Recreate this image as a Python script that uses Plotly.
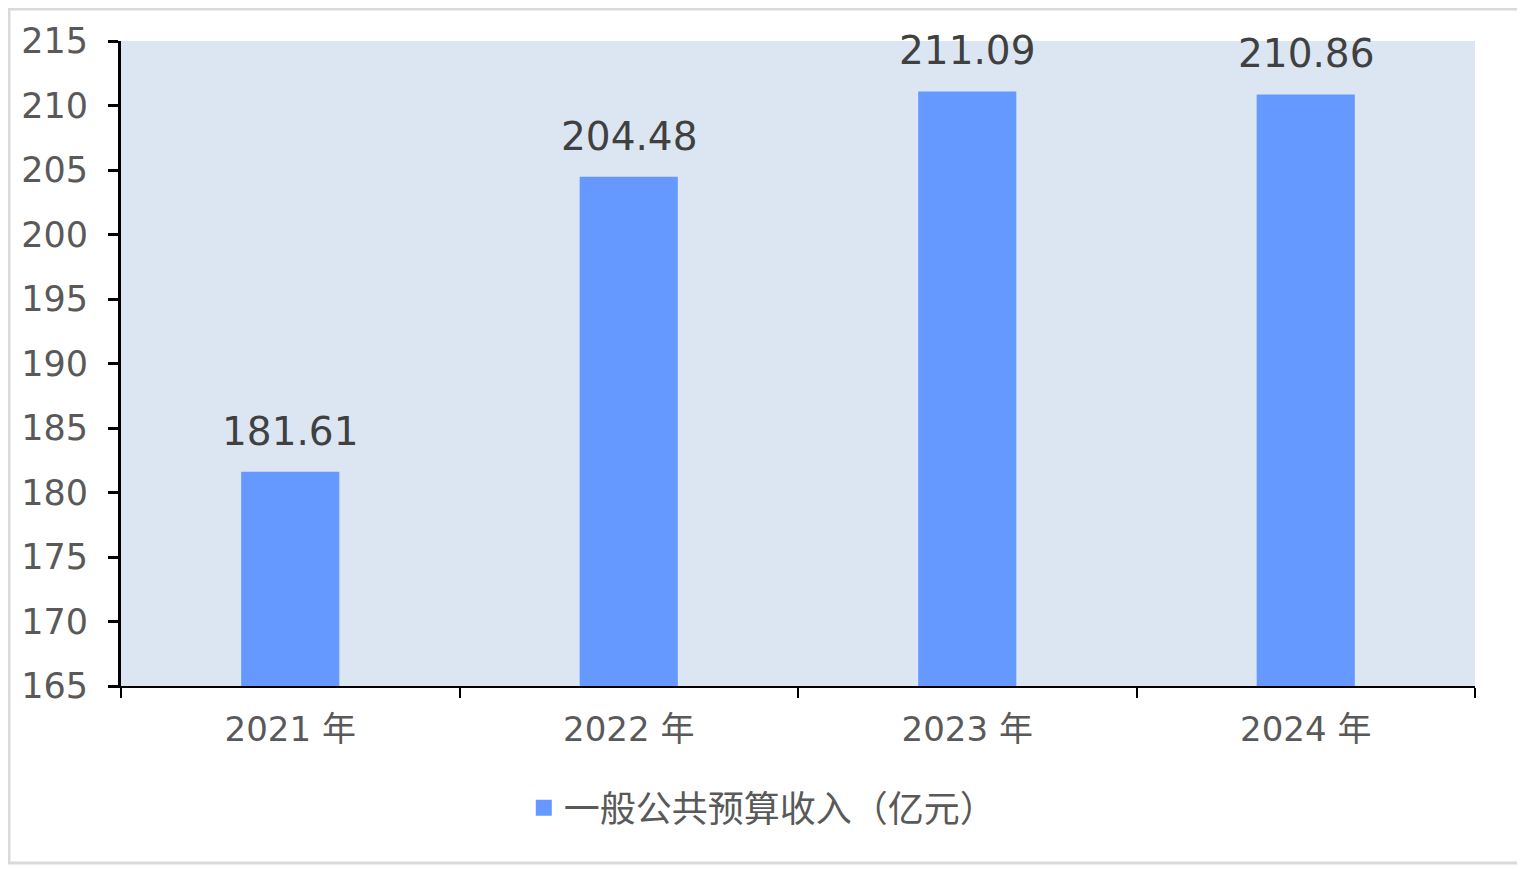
import plotly.graph_objects as go

# 数据
anos = ["2021 年", "2022 年", "2023 年", "2024 年"]
receita = [181.61, 204.48, 211.09, 210.86]
rotulos = ["181.61", "204.48", "211.09", "210.86"]
nome_serie = "一般公共预算收入（亿元）"
yticks = [165, 170, 175, 180, 185, 190, 195, 200, 205, 210, 215]

# a página tem 8px de margem no body, então desconto isso nas margens
W, H = 1525, 870
L, R, T, B = 113, 58, 33, 192
PW, PH = W - L - R, H - T - B

fig = go.Figure()

fig.add_trace(go.Bar(
    x=anos,
    y=receita,
    name=nome_serie,
    width=0.29,
    marker=dict(color="#6699ff", line=dict(width=0)),
    showlegend=False,
))

# item da legenda com quadrado maior
fig.add_trace(go.Scatter(
    x=[None], y=[None],
    mode="markers",
    name=nome_serie,
    marker=dict(symbol="square", size=20, color="#6699ff"),
))

# rótulos de valor acima das barras
for ano, v, txt in zip(anos, receita, rotulos):
    fig.add_annotation(
        x=ano, y=v, text=txt,
        showarrow=False, yanchor="bottom", yshift=16,
        font=dict(size=39, color="#404040", family="DejaVu Sans"),
    )

fig.update_layout(
    width=W, height=H,
    margin=dict(l=L, r=R, t=T, b=B, autoexpand=False),
    paper_bgcolor="white",
    plot_bgcolor="#dce6f2",
    font=dict(family="DejaVu Sans, Noto Sans CJK SC", color="#595959"),
    showlegend=True,
    legend=dict(
        orientation="h", x=0.474, xanchor="center", y=-0.189, yanchor="middle",
        font=dict(size=36, color="#595959", family="Noto Sans CJK SC"),
        itemsizing="trace", itemwidth=30,
    ),
)

fig.update_yaxes(
    range=[165, 215],
    tickvals=yticks,
    showgrid=False,
    zeroline=False,
    automargin=False,
    showline=True, linecolor="black", linewidth=3,
    ticks="outside", ticklen=10, tickwidth=3, tickcolor="black",
    ticklabelstandoff=13,
    tickfont=dict(size=35, color="#595959"),
)

fig.update_xaxes(
    showgrid=False,
    automargin=False,
    showline=True, linecolor="black", linewidth=2,
    ticks="outside", ticklen=10, tickwidth=2, tickcolor="black",
    tickson="boundaries",
    ticklabelstandoff=12,
    tickfont=dict(size=34, color="#595959"),
)

# moldura cinza da imagem
fig.add_shape(
    type="rect", xref="paper", yref="paper",
    x0=(1 - L) / PW, x1=(1512 - L) / PW,
    y0=(H - B - 855) / PH, y1=(H - B - 1) / PH,
    line=dict(color="#d9d9d9", width=3), layer="below",
)

fig.write_html("out.html")
